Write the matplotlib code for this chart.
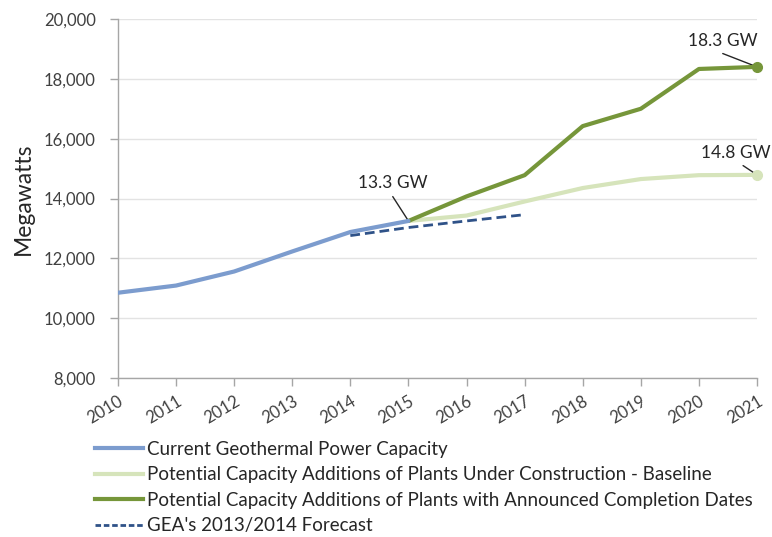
import matplotlib
matplotlib.use("Agg")
import matplotlib.pyplot as plt
from matplotlib.lines import Line2D

plt.rcParams['font.family'] = ['Lato', 'DejaVu Sans']

years_current = [2010, 2011, 2012, 2013, 2014, 2015]
current = [10850, 11090, 11560, 12230, 12880, 13250]

years_future = [2015, 2016, 2017, 2018, 2019, 2020, 2021]
baseline = [13250, 13430, 13900, 14350, 14650, 14780, 14790]
announced = [13250, 14070, 14780, 16420, 17000, 18330, 18400]

years_forecast = [2014, 2015, 2016, 2017]
forecast = [12760, 13030, 13250, 13460]

xticks = list(range(2010, 2022))
yticks = list(range(8000, 20001, 2000))

c_blue = '#7c9cce'
c_light = '#d6e4bb'
c_dark = '#76963a'
c_dash = '#2f5288'

fig = plt.figure(figsize=(7.72, 5.37), dpi=100)
ax = fig.add_axes([0.1528, 0.2961, 0.9806 - 0.1528, 0.9646 - 0.2961])

ax.plot(years_future, baseline, color=c_light, lw=3, solid_capstyle='round', zorder=3)
ax.plot(years_future, announced, color=c_dark, lw=3, solid_capstyle='round', zorder=4)
ax.plot(years_current, current, color=c_blue, lw=3, solid_capstyle='round', zorder=5)
ax.plot(years_forecast, forecast, color=c_dash, lw=2, ls=(0, (3.5, 1.8)), zorder=6)
ax.plot([years_future[-1]], [baseline[-1]], 'o', color=c_light, ms=7, zorder=7, clip_on=False)
ax.plot([years_future[-1]], [announced[-1]], 'o', color=c_dark, ms=7, zorder=7, clip_on=False)

ax.set_xlim(2010, 2021)
ax.set_ylim(8000, 20000)
ax.set_yticks(yticks)
ax.set_yticklabels([f"{v:,}" for v in yticks], fontsize=12, color='#404040')
ax.set_xticks(xticks)
ax.set_xticklabels([str(y) for y in xticks], fontsize=12, color='#404040',
                   rotation=31, ha='right', va='top', rotation_mode='anchor')
ax.tick_params(axis='both', length=6, width=1, color='#a6a6a6', direction='out')
ax.tick_params(axis='y', pad=10)
ax.tick_params(axis='x', pad=5)
ax.grid(axis='y', color='#e3e3e3', lw=1)
ax.set_axisbelow(True)
for s in ['top', 'right']:
    ax.spines[s].set_visible(False)
for s in ['left', 'bottom']:
    ax.spines[s].set_color('#a6a6a6')
    ax.spines[s].set_linewidth(1)
ax.set_ylabel('Megawatts', fontsize=16.5, color='#262626', labelpad=7)

# annotations
arrow = dict(arrowstyle='-', color='#262626', lw=1, shrinkA=0, shrinkB=0)
ax.annotate('', xy=(2015, current[-1]), xytext=(2014.73, 14064), arrowprops=arrow)
ax.text(2014.73, 14530, '13.3 GW', ha='center', va='center', fontsize=12.5, color='#262626')
ax.annotate('', xy=(2021, announced[-1]), xytext=(2020.41, 18846), arrowprops=arrow)
ax.text(2020.41, 19280, '18.3 GW', ha='center', va='center', fontsize=12.5, color='#262626')
ax.annotate('', xy=(2021, baseline[-1]), xytext=(2020.76, 15100), arrowprops=arrow)
ax.text(2021.24, 15535, '14.8 GW', ha='right', va='center', fontsize=12.5, color='#262626')

handles = [
    Line2D([], [], color=c_blue, lw=3),
    Line2D([], [], color=c_light, lw=3),
    Line2D([], [], color=c_dark, lw=3),
    Line2D([], [], color=c_dash, lw=2, ls=(0, (2, 1))),
]
labels = [
    'Current Geothermal Power Capacity',
    'Potential Capacity Additions of Plants Under Construction - Baseline',
    'Potential Capacity Additions of Plants with Announced Completion Dates',
    "GEA's 2013/2014 Forecast",
]
fig.legend(handles, labels, loc='upper left', bbox_to_anchor=(0.113, 0.193),
           frameon=False, fontsize=13.5, handlelength=2.6, handletextpad=0.2,
           labelspacing=0.45, borderaxespad=0, labelcolor='#262626')

fig.savefig('out.png', dpi=100)
